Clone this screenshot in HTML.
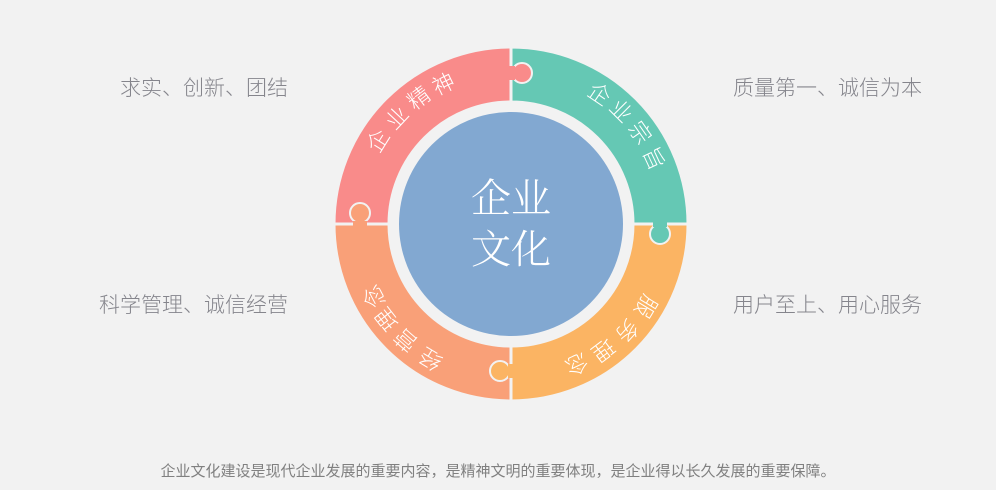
<!DOCTYPE html>
<html><head><meta charset="utf-8"><style>
html,body{margin:0;padding:0;background:#f2f2f2;}
body{width:996px;height:490px;overflow:hidden;position:relative;font-family:"Liberation Sans","Noto Sans CJK SC",sans-serif;}
.l{position:absolute;font-size:21px;color:#85858c;white-space:nowrap;line-height:24px;font-weight:300;}
</style></head><body>
<div class="l" style="right:708px;top:77px;">求实、创新、团结</div>
<div class="l" style="left:733px;top:77px;">质量第一、诚信为本</div>
<div class="l" style="right:708px;top:294px;">科学管理、诚信经营</div>
<div class="l" style="left:733px;top:294px;">用户至上、用心服务</div>
<div style="position:absolute;left:0;width:996px;top:463px;text-align:center;font-size:15px;color:#808080;line-height:18px;">企业文化建设是现代企业发展的重要内容，是精神文明的重要体现，是企业得以长久发展的重要保障。</div>
<svg width="996" height="490" style="position:absolute;left:0;top:0" font-family="Noto Sans CJK SC, sans-serif">
<g stroke="#f2f2f2" stroke-width="3">
<path d="M334 224 A177 177 0 0 1 511 47 L511 102 A122 122 0 0 0 389 224 Z" fill="#f98b8a"/>
<path d="M511 47 A177 177 0 0 1 688 224 L633 224 A122 122 0 0 0 511 102 Z" fill="#65c8b4"/>
<path d="M688 224 A177 177 0 0 1 511 401 L511 346 A122 122 0 0 0 633 224 Z" fill="#fbb463"/>
<path d="M511 401 A177 177 0 0 1 334 224 L389 224 A122 122 0 0 0 511 346 Z" fill="#f9a078"/>
</g>
<g stroke="#f2f2f2" stroke-width="2">
<circle cx="522" cy="73" r="10" fill="#f98b8a"/>
<circle cx="360" cy="213" r="10" fill="#f9a078"/>
<circle cx="660" cy="234" r="10" fill="#65c8b4"/>
<circle cx="500" cy="371" r="10" fill="#fbb463"/>
</g>
<rect x="509" y="66" width="6" height="14" fill="#f98b8a"/>
<rect x="353" y="221" width="14" height="5" fill="#f9a078"/>
<rect x="653" y="222" width="14" height="5" fill="#65c8b4"/>
<rect x="508" y="364" width="6" height="14" fill="#fbb463"/>
<circle cx="511" cy="224" r="112" fill="#82a8d1"/>
<g fill="#fff" font-size="40" text-anchor="middle" font-family="Noto Serif CJK SC, serif" font-weight="300">
<text x="511" y="212">企业</text>
<text x="511" y="263">文化</text>
</g>
<g fill="#fff" font-size="22" text-anchor="middle" dominant-baseline="central" font-weight="300">
<text transform="translate(377,140) rotate(-58)">企</text>
<text transform="translate(396,117) rotate(-47)">业</text>
<text transform="translate(418,97) rotate(-37)">精</text>
<text transform="translate(443,83) rotate(-26)">神</text>
<text transform="translate(600,93) rotate(34)">企</text>
<text transform="translate(622,110) rotate(45)">业</text>
<text transform="translate(641,132) rotate(55)">宗</text>
<text transform="translate(655,158) rotate(65)">旨</text>
<text transform="translate(647,307) rotate(121)">服</text>
<text transform="translate(628,332) rotate(132)">务</text>
<text transform="translate(604,351) rotate(143)">理</text>
<text transform="translate(577,365) rotate(155)">念</text>
<text transform="translate(430,360) rotate(211)">经</text>
<text transform="translate(405,341) rotate(221)">营</text>
<text transform="translate(386,320) rotate(232)">理</text>
<text transform="translate(373,297) rotate(242)">念</text>
</g>
</svg>
</body></html>
